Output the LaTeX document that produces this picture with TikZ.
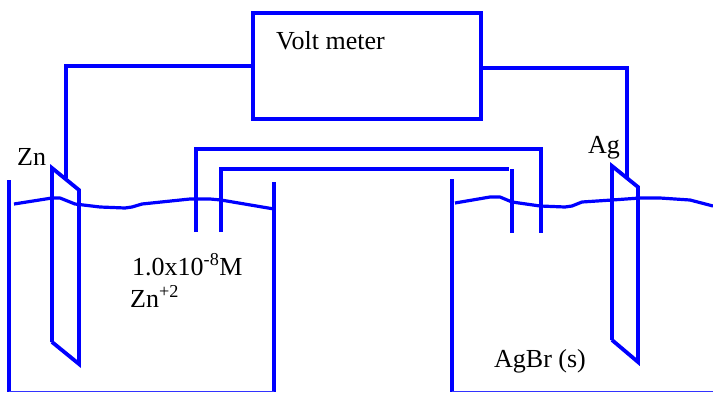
\documentclass[tikz,border=0pt]{standalone}
\usepackage{fontspec}
\setmainfont{Liberation Serif}
\tikzset{
  wire/.style={draw=blue,line width=3.8pt,line cap=butt,line join=miter},
  thin rim/.style={draw=blue!80!white,line width=1.5pt},
  lbl/.style={inner sep=0pt,anchor=base west,text=black,font=\fontsize{26}{30}\selectfont},
}
\begin{document}
\begin{tikzpicture}[x=1pt,y=-1pt]
\useasboundingbox (0,0) rectangle (713,392);
% voltmeter
\node[wire,rectangle,outer sep=0pt,minimum width=228pt,minimum height=106pt,inner sep=0pt,anchor=north west] (vm) at (253,13) {};
\node[lbl] (vmt) at (276,49) {Volt meter};
% electrode anchors
\coordinate (znw) at (66,178);
\coordinate (agw) at (627,177);
\draw[wire] (vm.west |- 0,66) -- (66,66) -- (znw);
\draw[wire] (vm.east |- 0,68) -- (627,68) -- (agw);
% beakers
\draw[wire] (9,180) -- (9,392);
\draw[wire] (274,182) -- (274,392);
\draw[wire] (452,179) -- (452,392);
\draw[thin rim] (9,391.3) -- (274,391.3);
\draw[thin rim] (452,391.3) -- (713,391.3);
% electrodes
\draw[wire] (52,342) -- (52,168) -- (79,190) -- (79,364) -- (52,342);
\draw[wire] (612,340) -- (612,166) -- (638,187) -- (638,362) -- (612,340);
% salt bridge
\draw[wire] (196,232) -- (196,149) -- (541,149) -- (541,233);
\draw[wire] (221,232) -- (221,169) -- (509,169);
\draw[wire] (512,169) -- (512,233);
% liquid surfaces
\draw[wire,line width=3.2pt,line join=round] (14,204) -- (52,198) -- (60,198) -- (75,204) -- (100,207) -- (125,208) -- (132,207) -- (142,204) -- (190,199) -- (210,199) -- (221,200) -- (274,209);
\draw[wire,line width=3.2pt,line join=round] (455,203) -- (490,197) -- (500,197) -- (512,202) -- (540,206) -- (565,207) -- (572,206) -- (582,202) -- (612,200) -- (640,198) -- (660,198) -- (690,200) -- (713,206);
% labels
\node[lbl] (zn) at (17,165) {Zn};
\node[lbl] (ag) at (588,153) {Ag};
\node[lbl] (conc) at (132,275) {1.0x10\textsuperscript{-8}M};
\node[lbl] (ion) at (130,307) {Zn\textsuperscript{+2}};
\node[lbl] (agbr) at (494,367) {AgBr (s)};
\end{tikzpicture}
\end{document}
